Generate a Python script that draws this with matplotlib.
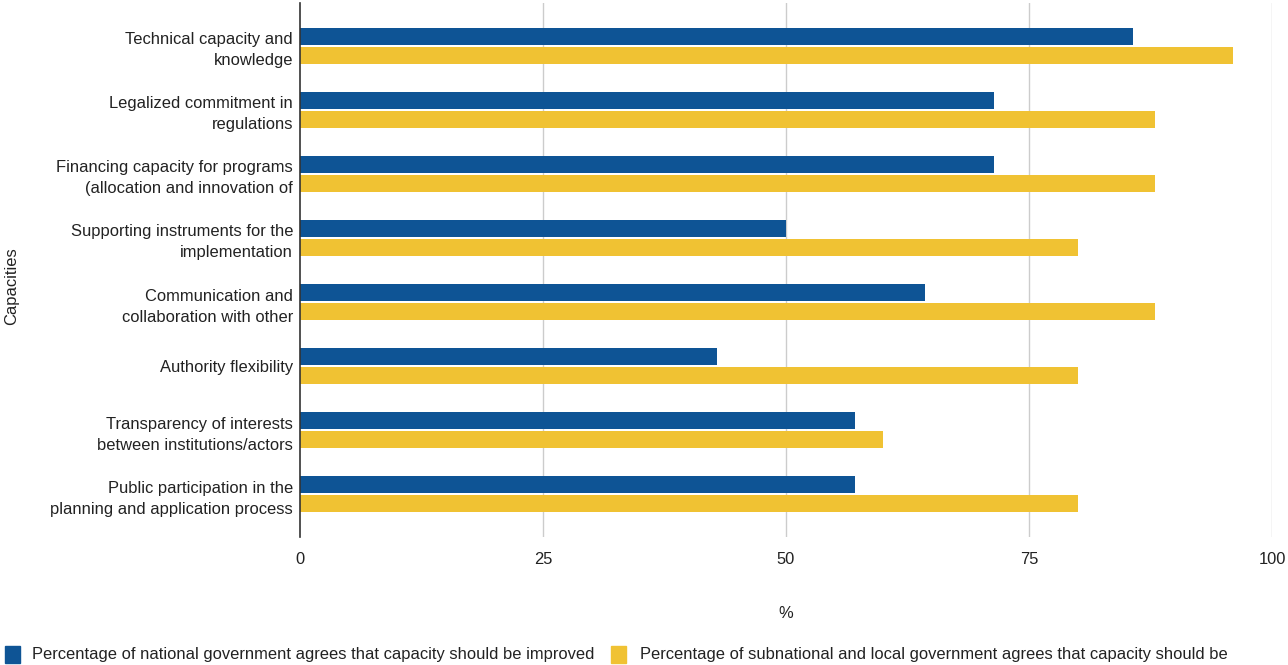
import matplotlib
matplotlib.use("Agg")
import matplotlib.pyplot as plt
import numpy as np
from matplotlib.patches import Rectangle

plt.rcParams['font.family'] = ['Liberation Sans', 'DejaVu Sans']

categories = [
    "Technical capacity and\nknowledge",
    "Legalized commitment in\nregulations",
    "Financing capacity for programs\n(allocation and innovation of",
    "Supporting instruments for the\nimplementation",
    "Communication and\ncollaboration with other",
    "Authority flexibility",
    "Transparency of interests\nbetween institutions/actors",
    "Public participation in the\nplanning and application process",
]
national = [85.7, 71.4, 71.4, 50.0, 64.3, 42.9, 57.1, 57.1]
subnational = [96, 88, 88, 80, 88, 80, 60, 80]
xticks = [0, 25, 50, 75, 100]
series_names = [
    "Percentage of national government agrees that capacity should be improved",
    "Percentage of subnational and local government agrees that capacity should be",
]

BLUE = "#0E5495"
YELLOW = "#F0C233"
FS = 11.85

fig = plt.figure(figsize=(12.88, 6.65), dpi=100)
ax = fig.add_axes([300/1288, 1-537/665, (1272-300)/1288, (537-3)/665])

y = np.arange(len(categories))
h = 0.27
ax.barh(y - h/2 - 0.015, national, height=h, color=BLUE, zorder=3)
ax.barh(y + h/2 + 0.015, subnational, height=h, color=YELLOW, zorder=3)

ax.set_ylim(len(categories) - 1 + 0.67, -0.67)
ax.set_xlim(0, 100)
ax.set_xticks(xticks)
ax.set_xticklabels([str(t) for t in xticks], fontsize=FS, color="#222222")
ax.set_yticks(y)
ax.set_yticklabels(categories, fontsize=FS, color="#222222", linespacing=1.5)
ax.tick_params(axis='both', length=0)
ax.tick_params(axis='x', pad=11)
ax.tick_params(axis='y', pad=5)
for t in xticks[1:]:
    ax.axvline(t, color="#CCCCCC", linewidth=1, zorder=1)
for s in ["top", "right", "bottom"]:
    ax.spines[s].set_visible(False)
ax.spines["left"].set_color("#333333")
ax.spines["left"].set_linewidth(1.2)
ax.spines["left"].set_zorder(4)

ax.set_xlabel("%", fontsize=FS, color="#222222", labelpad=28)
fig.text(12/1288, 1-286/665, "Capacities", rotation=90, fontsize=FS,
         color="#222222", ha="center", va="center")

# legend
ly = 1 - 655/665
for x0, x_text, name, col in [(5, 32, series_names[0], BLUE), (611, 640, series_names[1], YELLOW)]:
    fig.patches.append(Rectangle((x0/1288, ly - 8/665), 15/1288, 17/665,
                                 transform=fig.transFigure, color=col, figure=fig))
    fig.text(x_text/1288, ly, name, fontsize=FS, color="#222222", va="center", ha="left")

fig.savefig("out.png", dpi=100)
